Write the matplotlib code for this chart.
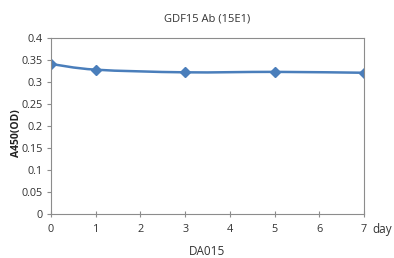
import matplotlib
matplotlib.use("Agg")
import matplotlib.pyplot as plt
from matplotlib.path import Path
from matplotlib.patches import PathPatch
import numpy as np

days = [0, 1, 3, 5, 7]
od = [0.341, 0.328, 0.322, 0.323, 0.321]
xticks = [0, 1, 2, 3, 4, 5, 6, 7]
yticks = [0, 0.05, 0.1, 0.15, 0.2, 0.25, 0.3, 0.35, 0.4]
ytick_labels = ["0", "0.05", "0.1", "0.15", "0.2", "0.25", "0.3", "0.35", "0.4"]

plt.rcParams['font.family'] = ['Open Sans', 'DejaVu Sans']
fig = plt.figure(figsize=(3.94, 2.58), dpi=100)
ax = fig.add_axes([51/394, 1-214/258, (364-51)/394, (214-38)/258])

line_color = '#4a7ebb'
# smooth curve (Catmull-Rom style Bezier, like Excel's smoothed line)
x = np.array(days, float); y = np.array(od, float)
verts = [(x[0], y[0])]; codes = [Path.MOVETO]
t = 1/6
for i in range(len(x)-1):
    p0 = (x[i-1], y[i-1]) if i > 0 else (x[i], y[i])
    p1 = (x[i], y[i]); p2 = (x[i+1], y[i+1])
    p3 = (x[i+2], y[i+2]) if i+2 < len(x) else (x[i+1], y[i+1])
    c1 = (p1[0] + (p2[0]-p0[0])*t, p1[1] + (p2[1]-p0[1])*t)
    c2 = (p2[0] - (p3[0]-p1[0])*t, p2[1] - (p3[1]-p1[1])*t)
    verts += [c1, c2, p2]; codes += [Path.CURVE4]*3
ax.add_patch(PathPatch(Path(verts, codes), facecolor='none', edgecolor=line_color, lw=1.8))
ax.plot(days, od, linestyle='none', marker='D', markersize=5.5, color=line_color)

ax.set_xlim(0, 7); ax.set_ylim(0, 0.4)
ax.set_xticks(xticks); ax.set_yticks(yticks)
ax.set_yticklabels(ytick_labels)
for s in ax.spines.values():
    s.set_color('#8c8c8c'); s.set_linewidth(0.8)
ax.tick_params(axis='both', colors='#8c8c8c', labelcolor='#333333', labelsize=7.8, length=3, width=0.8)
ax.tick_params(axis='y', pad=3)
ax.tick_params(axis='x', direction='inout', length=5, pad=5)
ax.set_title('GDF15 Ab (15E1)', fontsize=8, color='#333333', pad=12)
ax.set_xlabel('DA015', fontsize=8.5, color='#333333', labelpad=7)
ax.set_ylabel('A450(OD)', fontsize=7.5, fontweight='bold', color='#222222')
ax.yaxis.set_label_coords((22 - 51) / 313, 0.46)
fig.text(372/394, 1-229/258, 'day', fontsize=8.5, color='#333333', va='center', ha='left')
fig.savefig('out.png', dpi=100)
